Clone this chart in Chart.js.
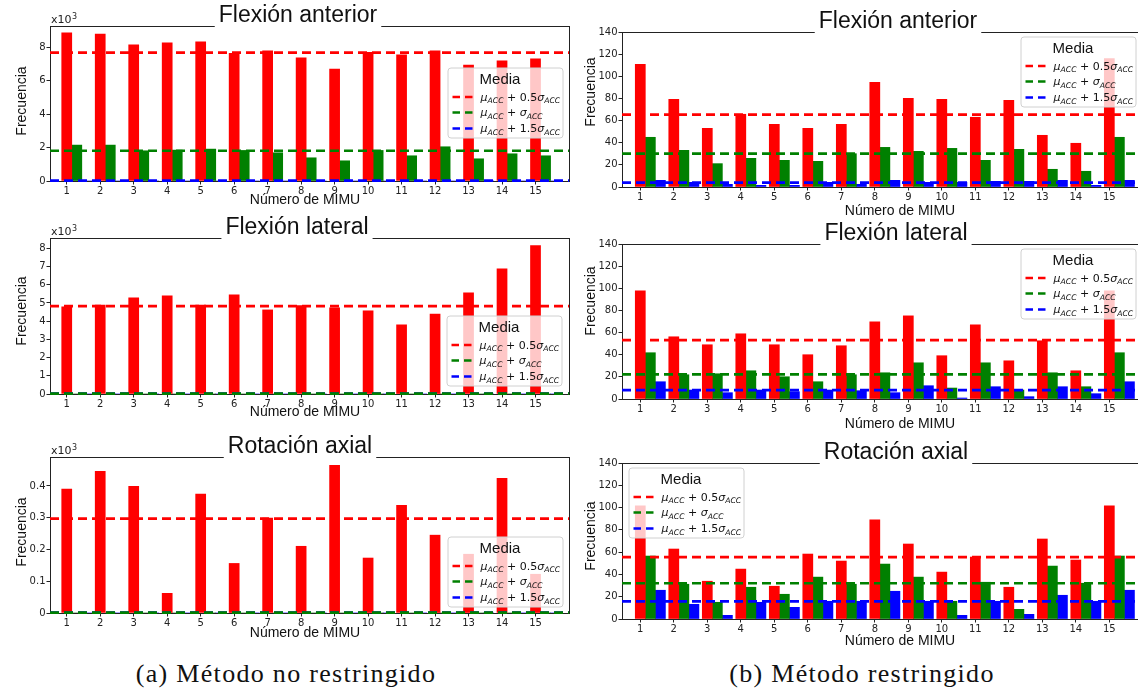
<!DOCTYPE html>
<html>
<head>
<meta charset="utf-8">
<script src="https://cdn.jsdelivr.net/npm/chart.js@4.4.0/dist/chart.umd.min.js"></script>
<style>
    html, body { margin: 0; padding: 0; background: #fff; }
    body { position: relative; width: 1138px; height: 691px; overflow: hidden; }
    canvas { position: absolute; }
    .caption {
        position: absolute; top: 661px; transform: translateX(-50%);
        font-family: "Liberation Serif", serif; font-size: 26px; line-height: 26px;
        letter-spacing: 1.3px; white-space: nowrap; color: #111;
    }
</style>
</head>
<body>
<div class="caption" style="left:286px">(a) Método no restringido</div>
<div class="caption" style="left:862px">(b) Método restringido</div>

<script>
// categorias (eje x)
const mimuIds = [1, 2, 3, 4, 5, 6, 7, 8, 9, 10, 11, 12, 13, 14, 15];
const barWidth = 0.3;

// ticks del eje y
const yTicksAntNR = [0, 2, 4, 6, 8];
const yTicksLatNR = [0, 1, 2, 3, 4, 5, 6, 7, 8];
const yTicksRotNR = [0, 0.1, 0.2, 0.3, 0.4];
const yTicksR = [0, 20, 40, 60, 80, 100, 120, 140];

// leyenda: mu_ACC + k*sigma_ACC
const legendCoefs = ['0.5', '', '1.5'];
const colors = ['#ff0000', '#008000', '#0000ff'];

// (a) Método no restringido (x10^3)
const antNR_05 = [8.87, 8.79, 8.15, 8.27, 8.33, 7.64, 7.79, 7.37, 6.70, 7.70, 7.55, 7.79, 6.94, 7.19, 7.31];
const antNR_10 = [2.15, 2.15, 1.81, 1.85, 1.91, 1.83, 1.69, 1.39, 1.21, 1.83, 1.51, 2.05, 1.33, 1.63, 1.51];
const antNR_15 = [0, 0, 0, 0, 0, 0, 0, 0, 0, 0, 0, 0, 0, 0, 0];
const antNR_mean = [7.68, 1.81, 0.02];

const latNR_05 = [4.79, 4.88, 5.28, 5.39, 4.88, 5.45, 4.62, 4.86, 4.73, 4.57, 3.80, 4.39, 5.56, 6.88, 8.15];
const latNR_10 = [0, 0, 0, 0, 0, 0, 0, 0, 0, 0, 0, 0, 0, 0, 0];
const latNR_15 = [0, 0, 0, 0, 0, 0, 0, 0, 0, 0, 0, 0, 0, 0, 0];
const latNR_mean = [4.83, 0.02, 0.02];

const rotNR_05 = [0.390, 0.446, 0.399, 0.062, 0.374, 0.156, 0.299, 0.210, 0.465, 0.173, 0.339, 0.245, 0.185, 0.424, 0.122];
const rotNR_10 = [0, 0, 0, 0, 0, 0, 0, 0, 0, 0, 0, 0, 0, 0, 0];
const rotNR_15 = [0, 0, 0, 0, 0, 0, 0, 0, 0, 0, 0, 0, 0, 0, 0];
const rotNR_mean = [0.297, 0.001, 0.001];

// (b) Método restringido
const antR_05 = [110.8, 79.2, 53.0, 65.7, 56.6, 53.0, 56.6, 94.6, 80.1, 79.2, 63.0, 78.3, 46.7, 39.5, 116.0];
const antR_10 = [44.9, 33.1, 21.1, 25.9, 24.1, 23.2, 30.1, 35.8, 32.2, 34.9, 24.1, 34.0, 16.0, 14.2, 44.9];
const antR_15 = [6.0, 4.2, 2.4, 1.5, 1.5, 4.2, 2.4, 6.0, 4.2, 4.2, 5.1, 5.1, 6.0, 1.5, 6.0];
const antR_mean = [65.4, 30.1, 3.9];

const latR_05 = [97.6, 56.2, 49.0, 58.9, 49.0, 40.0, 48.1, 69.7, 75.1, 39.1, 67.0, 34.5, 52.6, 25.5, 97.6];
const latR_10 = [41.8, 21.9, 22.8, 25.5, 20.1, 15.6, 21.9, 23.7, 32.7, 9.9, 32.7, 8.1, 23.7, 11.1, 41.8];
const latR_15 = [15.6, 8.1, 5.7, 8.1, 6.6, 8.1, 7.5, 5.7, 12.0, 0.9, 11.1, 2.1, 11.1, 4.8, 15.6];
const latR_mean = [53.2, 22.2, 8.1];

const rotR_05 = [101.5, 62.8, 33.9, 44.8, 29.4, 58.3, 52.0, 88.9, 67.3, 42.1, 55.6, 28.5, 71.8, 52.9, 101.5];
const rotR_10 = [56.5, 31.2, 15.0, 28.5, 22.2, 37.6, 31.2, 49.3, 37.6, 15.9, 33.0, 8.7, 47.5, 32.1, 56.5];
const rotR_15 = [25.8, 13.2, 3.3, 15.0, 10.5, 15.9, 15.9, 24.9, 15.9, 3.3, 15.9, 4.2, 21.3, 15.9, 25.8];
const rotR_mean = [55.6, 32.1, 15.9];

const AXW = 45, TOP = 34, XAH = 42;

const panels = [
    { title: 'Flexión anterior', series: [antNR_05, antNR_10, antNR_15], means: antNR_mean, yTicks: yTicksAntNR,
      yMax: 9.28, xMin: 0.5, xMax: 16.0, box: { l: 50, t: 26, r: 569, b: 181 },
      titleX: 298, xlabX: 305, xlabDy: 19, ylabX: 22, ylabY: 101, legend: { x: 448, y: 68 }, x10: true },
    { title: 'Flexión lateral', series: [latNR_05, latNR_10, latNR_15], means: latNR_mean, yTicks: yTicksLatNR,
      yMax: 8.57, xMin: 0.5, xMax: 16.0, box: { l: 50, t: 238, r: 569, b: 394 },
      titleX: 297, xlabX: 305, xlabDy: 18, ylabX: 22, ylabY: 311, legend: { x: 447, y: 316 }, x10: true },
    { title: 'Rotación axial', series: [rotNR_05, rotNR_10, rotNR_15], means: rotNR_mean, yTicks: yTicksRotNR,
      yMax: 0.491, xMin: 0.5, xMax: 16.0, box: { l: 50, t: 457, r: 569, b: 613 },
      titleX: 300, xlabX: 305, xlabDy: 20, ylabX: 22, ylabY: 532, legend: { x: 448, y: 537 }, x10: true },
    { title: 'Flexión anterior', series: [antR_05, antR_10, antR_15], means: antR_mean, yTicks: yTicksR,
      yMax: 140, xMin: 0.454, xMax: 17.05, box: { l: 622, t: 32, r: 1178, b: 187 },
      titleX: 898, xlabX: 900, xlabDy: 24, ylabX: 591, ylabY: 92, legend: { x: 1021, y: 37 }, x10: false },
    { title: 'Flexión lateral', series: [latR_05, latR_10, latR_15], means: latR_mean, yTicks: yTicksR,
      yMax: 140, xMin: 0.454, xMax: 17.05, box: { l: 622, t: 244, r: 1178, b: 399 },
      titleX: 896, xlabX: 900, xlabDy: 25, ylabX: 591, ylabY: 301, legend: { x: 1021, y: 249 }, x10: false },
    { title: 'Rotación axial', series: [rotR_05, rotR_10, rotR_15], means: rotR_mean, yTicks: yTicksR,
      yMax: 140, xMin: 0.454, xMax: 17.05, box: { l: 622, t: 463, r: 1178, b: 619 },
      titleX: 896, xlabX: 900, xlabDy: 22, ylabX: 591, ylabY: 536, legend: { x: 629, y: 468 }, x10: false }
];

// texto matematico: mu_ACC + k sigma_ACC
function drawMath(ctx, x, y, coef) {
    const F = 11;
    const parts = [
        ['μ', 'italic', F, 0], ['ACC', 'italic', F * 0.7, 2.5],
        [' + ' + coef, 'normal', F, 0],
        ['σ', 'italic', F, 0], ['ACC', 'italic', F * 0.7, 2.5]
    ];
    let cx = x;
    parts.forEach(p => {
        ctx.font = p[1] + ' ' + p[2] + 'px "DejaVu Sans"';
        ctx.fillText(p[0], cx, y + p[3]);
        cx += ctx.measureText(p[0]).width;
    });
}

function drawLegend(ctx, lx, ly) {
    const w = 115, h = 70, r = 3;
    ctx.save();
    ctx.beginPath();
    ctx.moveTo(lx + r, ly);
    ctx.arcTo(lx + w, ly, lx + w, ly + h, r);
    ctx.arcTo(lx + w, ly + h, lx, ly + h, r);
    ctx.arcTo(lx, ly + h, lx, ly, r);
    ctx.arcTo(lx, ly, lx + w, ly, r);
    ctx.closePath();
    ctx.fillStyle = 'rgba(255,255,255,0.78)';
    ctx.fill();
    ctx.strokeStyle = '#d0d0d0';
    ctx.lineWidth = 1;
    ctx.stroke();

    ctx.fillStyle = '#111';
    ctx.font = '15px "Liberation Sans"';
    ctx.textAlign = 'center';
    ctx.textBaseline = 'alphabetic';
    ctx.fillText('Media', lx + 52, ly + 15.5);

    const rows = [29, 44.5, 60.5];
    ctx.textAlign = 'left';
    rows.forEach((ry, k) => {
        ctx.strokeStyle = colors[k];
        ctx.lineWidth = 2.7;
        ctx.setLineDash([7.5, 5]);
        ctx.beginPath();
        ctx.moveTo(lx + 4.5, ly + ry);
        ctx.lineTo(lx + 24.5, ly + ry);
        ctx.stroke();
        ctx.setLineDash([]);
        ctx.fillStyle = '#111';
        drawMath(ctx, lx + 32.5, ly + ry + 3.5, legendCoefs[k]);
    });
    ctx.restore();
}

function makeDecor(p, offX, offY) {
    return {
        id: 'decor',
        beforeDatasetsDraw(chart) {
            const ctx = chart.ctx, a = chart.chartArea;
            ctx.save();
            ctx.strokeStyle = '#222';
            ctx.lineWidth = 1;
            ctx.strokeRect(Math.round(a.left) + 0.5, Math.round(a.top) + 0.5,
                Math.round(a.right - a.left), Math.round(a.bottom - a.top));
            ctx.restore();
        },
        afterDraw(chart) {
            const ctx = chart.ctx, a = chart.chartArea;
            ctx.save();
            // titulo con fondo blanco (tapa el marco)
            ctx.font = '23px "Liberation Sans"';
            const tw = ctx.measureText(p.title).width;
            const tx = p.titleX - offX, ty = a.top - 4;
            ctx.fillStyle = '#fff';
            ctx.fillRect(tx - tw / 2 - 4, ty - 23, tw + 8, 29);
            ctx.fillStyle = '#111';
            ctx.textAlign = 'center';
            ctx.textBaseline = 'alphabetic';
            ctx.fillText(p.title, tx, ty);

            // etiquetas de los ejes
            ctx.font = '14px "Liberation Sans"';
            ctx.textBaseline = 'middle';
            ctx.fillText('Número de MIMU', p.xlabX - offX, a.bottom + p.xlabDy);
            ctx.save();
            ctx.translate(p.ylabX - offX, p.ylabY - offY);
            ctx.rotate(-Math.PI / 2);
            ctx.font = '14px "Liberation Sans"';
            ctx.fillText('Frecuencia', 0, 0);
            ctx.restore();

            if (p.x10) {
                ctx.textAlign = 'left';
                ctx.textBaseline = 'alphabetic';
                ctx.font = '11px "DejaVu Sans"';
                ctx.fillStyle = '#222';
                const bx = a.left + 1, by = a.top - 3;
                ctx.fillText('x10', bx, by);
                const w = ctx.measureText('x10').width;
                ctx.font = '8px "DejaVu Sans"';
                ctx.fillText('3', bx + w + 0.5, by - 4.5);
            }

            drawLegend(ctx, p.legend.x - offX, p.legend.y - offY);
            ctx.restore();
        }
    };
}

function axisStyle() {
    return {
        grid: { display: true, drawOnChartArea: false, drawTicks: true, tickLength: 3.5, color: '#222', offset: false },
        border: { display: true, color: '#222', width: 1 },
        ticks: { font: { family: 'DejaVu Sans', size: 10 }, color: '#222', maxRotation: 0, autoSkip: false }
    };
}

function buildPanel(p) {
    const left = p.box.l - AXW, top = p.box.t - TOP;
    const w = p.box.r + 2 - left, h = p.box.b + XAH - top;
    const cv = document.createElement('canvas');
    cv.width = w; cv.height = h;
    cv.style.left = left + 'px'; cv.style.top = top + 'px';
    cv.style.width = w + 'px'; cv.style.height = h + 'px';
    document.body.appendChild(cv);

    const bars = p.series.map((vals, k) => ({
        type: 'bar',
        data: vals.map((v, i) => ({ x: mimuIds[i] + k * barWidth, y: v })),
        backgroundColor: colors[k],
        borderWidth: 0,
        grouped: false,
        categoryPercentage: 1,
        barPercentage: 1,
        order: 2
    }));
    const lines = p.means.map((m, k) => ({
        type: 'line',
        data: [{ x: p.xMin, y: m }, { x: p.xMax, y: m }],
        borderColor: colors[k],
        borderWidth: 2.7,
        borderDash: [9, 5],
        pointRadius: 0,
        fill: false,
        clip: false,
        order: 0
    }));

    const xs = axisStyle(), ys = axisStyle();
    xs.ticks.padding = 1;
    ys.ticks.padding = 1;

    new Chart(cv, {
        type: 'bar',
        data: { datasets: bars.concat(lines) },
        options: {
            responsive: false,
            animation: false,
            devicePixelRatio: 1,
            layout: { padding: { top: TOP, right: 2, left: 0, bottom: 0 } },
            plugins: { legend: { display: false }, title: { display: false }, tooltip: { enabled: false } },
            scales: {
                x: Object.assign(xs, {
                    type: 'linear', min: p.xMin, max: p.xMax, offset: false,
                    afterBuildTicks: s => { s.ticks = mimuIds.map(v => ({ value: v })); },
                    afterFit: s => { s.height = XAH; }
                }),
                y: Object.assign(ys, {
                    type: 'linear', min: 0, max: p.yMax,
                    afterBuildTicks: s => { s.ticks = p.yTicks.map(v => ({ value: v })); },
                    afterFit: s => { s.width = AXW; }
                })
            }
        },
        plugins: [makeDecor(p, left, top)]
    });
}

panels.forEach(buildPanel);
</script>
</body>
</html>
